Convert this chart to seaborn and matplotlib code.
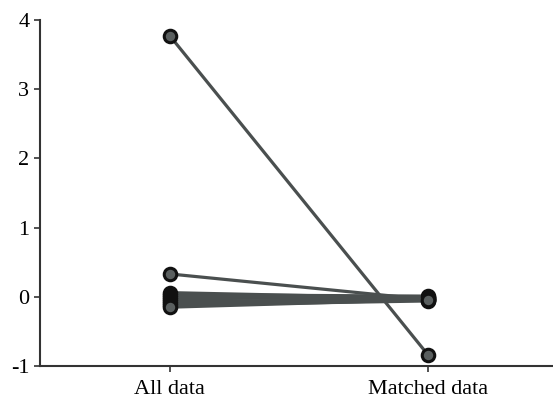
import pandas as pd
import matplotlib.pyplot as plt
import seaborn as sns

# Standardized differences per covariate, before and after matching
groups = ['All data', 'Matched data']
all_data = [3.77, 0.33, 0.06, 0.03, 0.0, -0.03, -0.06, -0.09, -0.12, -0.15]
matched_data = [-0.84, -0.04, -0.02, 0.01, -0.03, 0.0, -0.05, -0.02, -0.06, -0.04]
y_ticks = [-1, 0, 1, 2, 3, 4]

sns.set_style('ticks')
plt.rcParams['font.family'] = ['Liberation Serif', 'DejaVu Serif']

# Long format: one row per covariate and group
rows = []
for i, (a, m) in enumerate(zip(all_data, matched_data)):
    rows.append({'id': i, 'group': groups[0], 'value': a})
    rows.append({'id': i, 'group': groups[1], 'value': m})
df = pd.DataFrame(rows)

fig = plt.figure(figsize=(5.53, 4.0), dpi=100)
ax = fig.add_axes([0.072, 0.085, 0.928, 0.865])

sns.lineplot(data=df, x='group', y='value', units='id', estimator=None,
             color='#4a4f4f', linewidth=2.3, marker='o', markersize=9,
             markerfacecolor='#5a5f5f', markeredgecolor='#111111',
             markeredgewidth=2.2, ax=ax)

ax.set_xlim(-0.504, 1.484)
ax.set_ylim(-1, 4)
ax.set_yticks(y_ticks)
ax.set_yticklabels([str(t) for t in y_ticks])
ax.set_xlabel('')
ax.set_ylabel('')
ax.tick_params(axis='both', labelsize=16, length=4, width=1.2, colors='#333333',
               labelcolor='black')
ax.tick_params(axis='x', pad=6)
for side in ['left', 'bottom']:
    ax.spines[side].set_linewidth(1.5)
    ax.spines[side].set_color('#333333')
sns.despine(ax=ax)

plt.savefig('out.png', dpi=100)
